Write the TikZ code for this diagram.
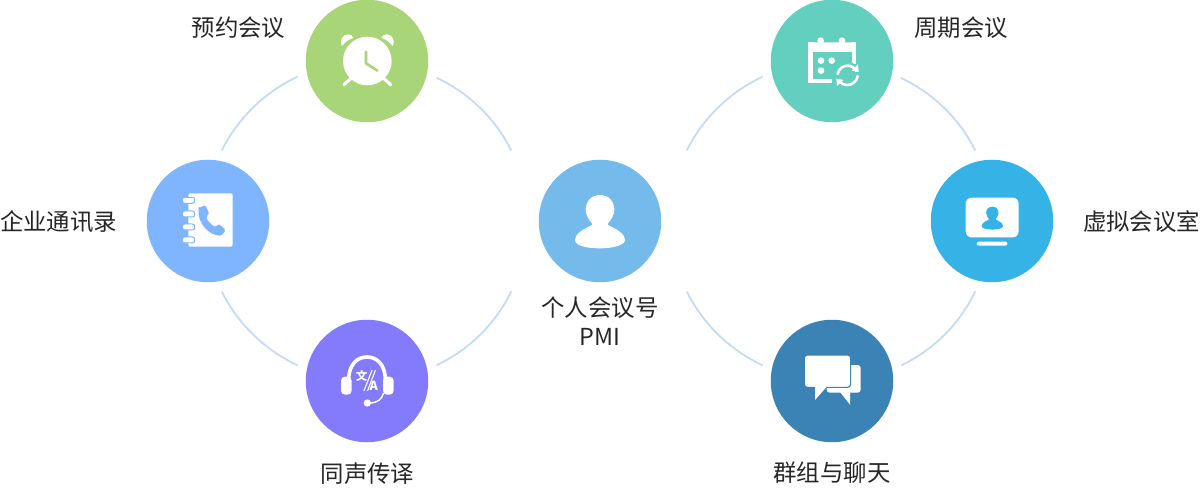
\documentclass[tikz,border=0pt]{standalone}
\usepackage{fontspec}
\setmainfont{Noto Sans CJK SC}
\definecolor{cgreen}{HTML}{A8D577}
\definecolor{cteal}{HTML}{62CFBF}
\definecolor{cblue}{HTML}{7FB5FF}
\definecolor{cpurple}{HTML}{837BFB}
\definecolor{cdark}{HTML}{3B82B5}
\definecolor{ccyan}{HTML}{35B2E6}
\definecolor{ccenter}{HTML}{74BBEB}
\definecolor{cring}{HTML}{C2DBFA}
\definecolor{ctext}{HTML}{262626}
\tikzset{
 hub/.style={circle,minimum size=122.5pt,inner sep=0pt,fill=#1},
 lab/.style={text=ctext,font=\fontsize{23.4}{28}\selectfont,inner sep=0pt,align=center},
 ring/.style={draw=cring,line width=1.8pt,line cap=round,looseness=0.88},
 zoomed/.style={x=0.33333pt,y=-0.33333pt},
 ic/.style={draw=white,line cap=round,line join=round},
}
\newcommand{\personshape}{(195,120) .. controls (222,120) and (238,140) .. (238,162) .. controls (238,185) and (225,197) .. (218,207) .. controls (218,215) and (268,225) .. (270,255) .. controls (270,272) and (230,280) .. (195,280) .. controls (155,280) and (120,272) .. (120,255) .. controls (122,225) and (172,215) .. (172,207) .. controls (165,197) and (152,185) .. (152,162) .. controls (152,140) and (168,120) .. (195,120) -- cycle}
\begin{document}
\begin{tikzpicture}[x=1pt,y=-1pt]
\useasboundingbox (0,0) rectangle (1200,489);
% rings
\coordinate (l1a) at (222,150); \coordinate (l1b) at (297,77);
\coordinate (l2a) at (437,78);  \coordinate (l2b) at (511,150);
\coordinate (l3a) at (511,292); \coordinate (l3b) at (437,365);
\coordinate (l4a) at (297,365); \coordinate (l4b) at (222,292);
\coordinate (r1a) at (687,150); \coordinate (r1b) at (762,77);
\coordinate (r2a) at (901,78);  \coordinate (r2b) at (975,150);
\coordinate (r3a) at (975,292); \coordinate (r3b) at (902,365);
\coordinate (r4a) at (762,365); \coordinate (r4b) at (687,292);
\foreach \n in {l1,l2,l3,l4,r1,r2,r3,r4}
  \draw[ring] (\n a) to[bend left=19] (\n b);
% hubs
\node[hub=cgreen]  (clock) at (367,61) {};
\node[hub=cteal]   (cal)   at (832,61) {};
\node[hub=cblue]   (book)  at (208,221) {};
\node[hub=ccenter] (pmi)   at (600,221) {};
\node[hub=ccyan]   (room)  at (992,221) {};
\node[hub=cpurple] (sync)  at (367,381) {};
\node[hub=cdark]   (chat)  at (832,381) {};
% labels
\node[lab] (t1) at (238.5,28) {预约会议};
\node[lab] (t2) at (961,28) {周期会议};
\node[lab] (t3) at (58.5,222) {企业通讯录};
\node[lab] (t4) at (1141.5,222) {虚拟会议室};
\node[lab] (t5) at (367.5,474) {同声传译};
\node[lab] (t6) at (832,473) {群组与聊天};
\node[lab] (t7) at (600,308) {个人会议号};
\node[lab] (t8) at (600,337) {PMI};
% clock icon
\begin{scope}[shift={(290,0)},zoomed]
 \fill[white] (232,183) circle[radius=73];
 \fill[white] (156,138) .. controls (146,120) and (160,102) .. (175,103) .. controls (183,103) and (188,108) .. (190,114) .. controls (175,118) and (165,127) .. (156,138) -- cycle;
 \fill[white] (308,138) .. controls (318,120) and (304,102) .. (289,103) .. controls (281,103) and (276,108) .. (274,114) .. controls (289,118) and (299,127) .. (308,138) -- cycle;
 \draw[draw=cgreen,line width=2.6pt,line cap=round,line join=round] (228,155) -- (228,190) -- (262,212);
 \draw[ic,line width=3.2pt] (162,254) -- (182,236);
 \draw[ic,line width=3.2pt] (302,254) -- (282,236);
\end{scope}
% calendar icon
\begin{scope}[shift={(760,0)},zoomed]
 \fill[white] (182,122) circle[radius=10];
 \fill[white] (246,122) circle[radius=10];
 \fill[white,rounded corners=1.5pt] (145,127) rectangle (287,156);
 \fill[white] (145,127) rectangle (158,250);
 \fill[white] (145,238) rectangle (215,250);
 \fill[white] (275,127) rectangle (287,192);
 \fill[white] (183,182) circle[radius=10];
 \fill[white] (215,182) circle[radius=10];
 \fill[white] (183,212) circle[radius=10];
 \fill[cteal] (262,226) circle[radius=40];
 \draw[ic,line width=2.6pt] (233,222) .. controls (236,205) and (250,197) .. (263,197) .. controls (275,197) and (283,203) .. (288,212);
 \draw[ic,line width=2.6pt] (293,228) .. controls (290,245) and (277,255) .. (262,255) .. controls (250,255) and (241,249) .. (236,240);
 \fill[white] (294,193) -- (296,216) -- (275,212) -- cycle;
 \fill[white] (231,258) -- (229,236) -- (250,240) -- cycle;
\end{scope}
% address book icon
\begin{scope}[shift={(140,155)},zoomed]
 \fill[white,rounded corners=2pt] (145,115) rectangle (278,275);
 \foreach \y in {136,177,216,255}{
  \draw[draw=cblue,fill=white,line width=1pt,rounded corners=2.3pt] (127,\y-9) rectangle (164,\y+9);
 }
 \fill[cblue,rounded corners=1.5pt] (176,160) -- (195,150) -- (208,176) -- (198,186) .. controls (204,200) and (215,210) .. (228,216) -- (236,206) -- (257,225) -- (245,242) .. controls (208,242) and (172,205) .. (176,160) -- cycle;
\end{scope}
% headset icon
\begin{scope}[shift={(300,330)},zoomed]
 \draw[ic,line width=3.6pt] (146,150) .. controls (146,105) and (170,81) .. (201,81) .. controls (232,81) and (256,105) .. (256,150);
 \fill[white,rounded corners=4pt] (123,140) rectangle (155,194);
 \fill[white,rounded corners=4pt] (249,140) rectangle (281,194);
 \draw[ic,line width=1.5pt] (250,190) .. controls (246,208) and (232,218) .. (210,219);
 \fill[white] (202,219) circle[radius=11];
 \node[text=white,font=\fontsize{11.5}{11}\bfseries\selectfont,inner sep=0pt] (wen) at (185,139) {文};
 \node[text=white,font=\fontsize{12.5}{12}\bfseries\selectfont,inner sep=0pt] (aaa) at (221,167) {A};
 \draw[ic,line width=1.1pt] (216,121) -- (192,182);
 \draw[ic,line width=1.1pt] (226,121) -- (203,182);
\end{scope}
% chat icon
\begin{scope}[shift={(765,320)},zoomed]
 \fill[white,rounded corners=3pt] (185,135) rectangle (287,218);
 \fill[white] (225,216) -- (255,254) -- (255,216) -- cycle;
 \draw[draw=cdark,line width=1.1pt,fill=white,rounded corners=3pt] (118,105) rectangle (257,202);
 \fill[white] (150,198) -- (150,240) -- (187,198) -- cycle;
\end{scope}
% monitor icon
\begin{scope}[shift={(925,155)},zoomed]
 \fill[white,rounded corners=6pt] (122,128) rectangle (281,247);
 \fill[white,rounded corners=2pt] (155,260) rectangle (247,272);
 \begin{scope}[shift={(202,155)},x=0.1433pt,y=-0.1433pt]
  \fill[ccyan] [shift={(-195,-120)}] \personshape;
 \end{scope}
\end{scope}
% person icon
\begin{scope}[shift={(535,155)},zoomed]
 \fill[white] \personshape;
\end{scope}
\end{tikzpicture}
\end{document}
